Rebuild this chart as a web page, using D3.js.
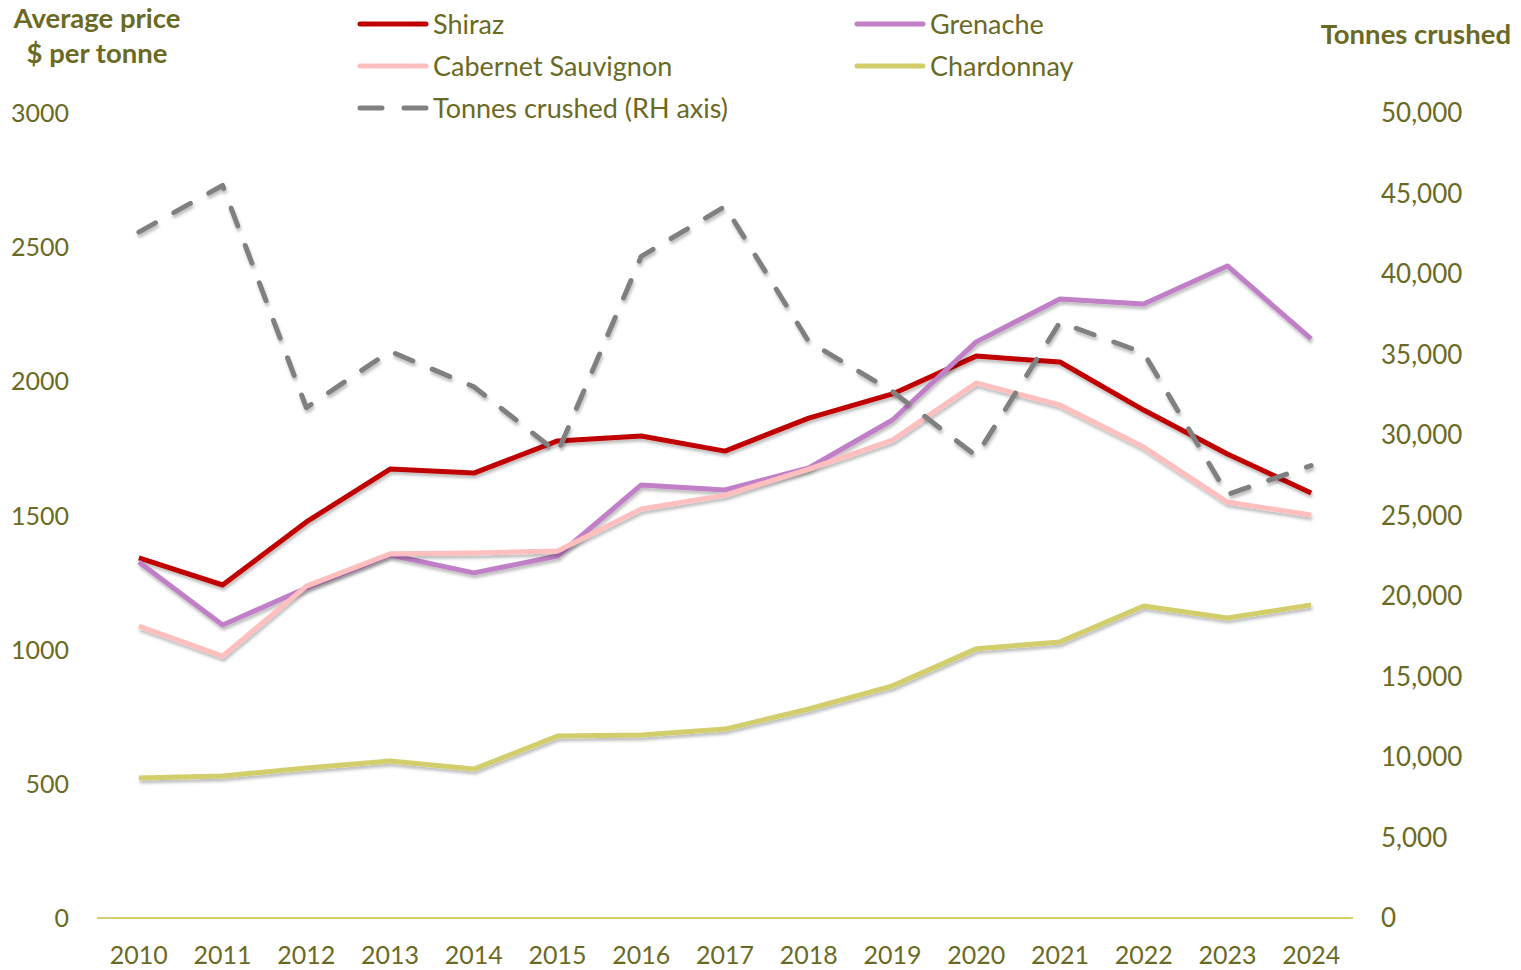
<!DOCTYPE html>
<html>
<head>
<meta charset="utf-8">
<script src="https://cdn.jsdelivr.net/npm/d3@7"></script>
<style>
  body { margin: 0; background: #fff; }
  text { font-family: Lato, "Open Sans", sans-serif; fill: #6b6a24; }
</style>
</head>
<body>
<div id="chart"></div>
<script>
// data
var years = ["2010","2011","2012","2013","2014","2015","2016","2017","2018","2019","2020","2021","2022","2023","2024"]
var shiraz = [1342,1241,1476,1673,1658,1778,1796,1740,1863,1953,2094,2072,1893,1729,1584]
var grenache = [1327,1092,1230,1353,1286,1349,1614,1595,1677,1856,2147,2307,2288,2430,2158]
var cabernet = [1088,976,1237,1357,1360,1368,1524,1576,1673,1781,1994,1912,1755,1550,1502]
var chardonnay = [522,529,559,585,555,678,682,704,779,865,1003,1029,1163,1118,1167]
var tonnes = [42600,45500,31700,35200,33000,28900,41100,44200,35800,32700,28700,37000,35100,26300,28100]
var leftTicks = [0,500,1000,1500,2000,2500,3000]
var rightTicks = [0,5000,10000,15000,20000,25000,30000,35000,40000,45000,50000]

var width = 1521, height = 970
var margin = {top: 113, right: 168, bottom: 52, left: 97}

var svg = d3.select("#chart").append("svg")
  .attr("width", width)
  .attr("height", height)

// soft shadow under the lines
var defs = svg.append("defs")
defs.append("filter").attr("id", "shadow")
  .attr("x", "-5%").attr("y", "-5%").attr("width", "110%").attr("height", "120%")
  .append("feDropShadow")
  .attr("dx", 1).attr("dy", 3).attr("stdDeviation", 1.5)
  .attr("flood-color", "#000").attr("flood-opacity", 0.25)

var x = d3.scalePoint()
  .domain(years)
  .range([margin.left, width - margin.right])
  .padding(0.5)

var y = d3.scaleLinear().domain([0, 3000]).range([height - margin.bottom, margin.top])
var y2 = d3.scaleLinear().domain([0, 50000]).range([height - margin.bottom, margin.top])

// x axis line
svg.append("line")
  .attr("x1", margin.left).attr("x2", width - margin.right)
  .attr("y1", y(0)).attr("y2", y(0))
  .attr("stroke", "#d4cf6a").attr("stroke-width", 2)

// year labels
svg.selectAll(".year").data(years).enter().append("text")
  .attr("x", function(d) { return x(d) })
  .attr("y", y(0) + 46)
  .attr("text-anchor", "middle")
  .style("font-size", "25px")
  .text(function(d) { return d })

// left ticks
svg.selectAll(".lt").data(leftTicks).enter().append("text")
  .attr("x", 69)
  .attr("y", function(d) { return y(d) + 9 })
  .attr("text-anchor", "end")
  .style("font-size", "25px")
  .text(function(d) { return d })

// right ticks
svg.selectAll(".rt").data(rightTicks).enter().append("text")
  .attr("x", 1381)
  .attr("y", function(d) { return y2(d) + 9 })
  .attr("text-anchor", "start")
  .style("font-size", "26px")
  .text(function(d) { return d3.format(",")(d) })

// axis titles
svg.append("text").attr("x", 97).attr("y", 28).attr("text-anchor", "middle")
  .style("font-size", "27.5px").style("font-weight", "bold").text("Average price")
svg.append("text").attr("x", 97).attr("y", 63).attr("text-anchor", "middle")
  .style("font-size", "27.5px").style("font-weight", "bold").text("$ per tonne")
svg.append("text").attr("x", 1511).attr("y", 44).attr("text-anchor", "end")
  .style("font-size", "27.5px").style("font-weight", "bold").text("Tonnes crushed")

var series = [
  {name: "Shiraz", values: shiraz, color: "#c00000", scale: y, dash: null},
  {name: "Grenache", values: grenache, color: "#c07fc6", scale: y, dash: null},
  {name: "Cabernet Sauvignon", values: cabernet, color: "#ffbfbf", scale: y, dash: null},
  {name: "Chardonnay", values: chardonnay, color: "#d2ce6c", scale: y, dash: null},
  {name: "Tonnes crushed (RH axis)", values: tonnes, color: "#808080", scale: y2, dash: "19,21"}
]

series.forEach(function(s) {
  var line = d3.line()
    .x(function(d, i) { return x(years[i]) })
    .y(function(d) { return s.scale(d) })
  svg.append("path")
    .datum(s.values)
    .attr("fill", "none")
    .attr("stroke", s.color)
    .attr("stroke-width", 5)
    .attr("stroke-linejoin", "round")
    .attr("stroke-linecap", s.dash ? "round" : "butt")
    .attr("stroke-dasharray", s.dash)
    .attr("filter", "url(#shadow)")
    .attr("d", line)
})

// legend
var legendPos = [
  {i: 0, x: 358, y: 24}, {i: 1, x: 855, y: 24},
  {i: 2, x: 358, y: 66}, {i: 3, x: 855, y: 66},
  {i: 4, x: 358, y: 108}
]
legendPos.forEach(function(p) {
  var s = series[p.i]
  var g = svg.append("g")
  g.append("line")
    .attr("x1", p.x + 2).attr("x2", p.x + 68)
    .attr("y1", p.y).attr("y2", p.y)
    .attr("stroke", s.color).attr("stroke-width", 5)
    .attr("stroke-linecap", "round")
    .attr("stroke-dasharray", s.dash ? "22,22" : null)
  g.append("text")
    .attr("x", p.x + 75).attr("y", p.y + 9.5)
    .style("font-size", "27px")
    .text(s.name)
})
</script>
</body>
</html>
